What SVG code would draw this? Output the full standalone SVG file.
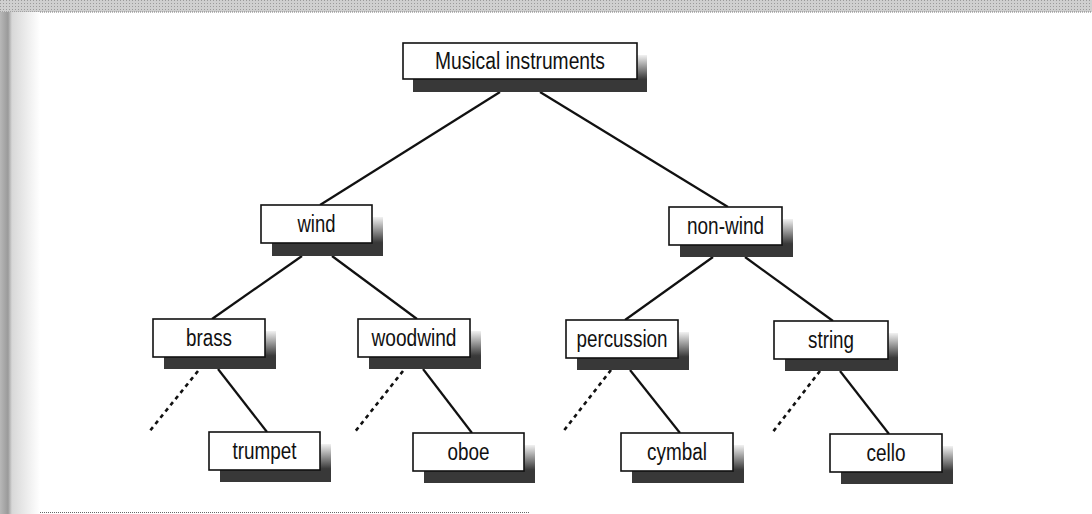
<svg xmlns="http://www.w3.org/2000/svg" width="1092" height="514" viewBox="0 0 1092 514">
<defs>
<linearGradient id="sg" x1="0" y1="0" x2="0" y2="1">
<stop offset="0" stop-color="#f2f2f2"/>
<stop offset="0.65" stop-color="#3a3a3a"/>
<stop offset="1" stop-color="#2e2e2e"/>
</linearGradient>
<linearGradient id="lg" x1="0" y1="0" x2="1" y2="0">
<stop offset="0" stop-color="#b8b8b8"/>
<stop offset="0.2" stop-color="#9a9a9a"/>
<stop offset="0.3" stop-color="#d8d8d8"/>
<stop offset="1" stop-color="#ffffff"/>
</linearGradient>
<pattern id="dots" width="3" height="3" patternUnits="userSpaceOnUse">
<rect width="3" height="3" fill="#cfcfcf"/>
<rect width="1" height="1" fill="#9a9a9a"/>
</pattern>
</defs>
<style>
.box{fill:#fff;stroke:#111;stroke-width:1.6}
.sr{fill:url(#sg)}
.sb{fill:#383838}
.lbl{font-family:"Liberation Sans",Arial,sans-serif;font-size:23px;fill:#111;text-anchor:middle}
.ln{stroke:#111;stroke-width:2.2;fill:none}
.dl{stroke:#111;stroke-width:2.6;stroke-dasharray:4 4;fill:none}
</style>
<rect width="1092" height="514" fill="#fff"/>
<rect x="0" y="0" width="1092" height="12" fill="url(#dots)"/>
<line x1="0" y1="12" x2="1092" y2="12" stroke="#777" stroke-width="1" stroke-dasharray="1 1"/>
<rect x="0" y="12" width="40" height="502" fill="url(#lg)"/>
<line x1="40" y1="512.5" x2="530" y2="512.5" stroke="#666" stroke-width="1" stroke-dasharray="1 1"/>

<g id="connectors">
<line class="ln" x1="500" y1="92" x2="320" y2="205"/>
<line class="ln" x1="540" y1="92" x2="728" y2="207"/>
<line class="ln" x1="302" y1="256" x2="212" y2="319"/>
<line class="ln" x1="332" y1="256" x2="417" y2="319"/>
<line class="ln" x1="713" y1="257" x2="625" y2="320"/>
<line class="ln" x1="745" y1="257" x2="833" y2="321"/>
<line class="ln" x1="218" y1="369" x2="267" y2="432"/>
<line class="ln" x1="423" y1="369" x2="472" y2="433"/>
<line class="ln" x1="630" y1="370" x2="680" y2="433"/>
<line class="ln" x1="840" y1="371" x2="889" y2="434"/>
<line class="dl" x1="198" y1="371" x2="149" y2="432"/>
<line class="dl" x1="403" y1="371" x2="354" y2="433"/>
<line class="dl" x1="611" y1="370" x2="562" y2="433"/>
<line class="dl" x1="820" y1="371" x2="772" y2="433"/>
</g>

<g id="n-musical">
<rect class="sr" x="637" y="55" width="10" height="37"/>
<rect class="sb" x="413" y="79" width="234" height="13"/>
<rect class="box" x="403" y="43" width="234" height="36"/>
<text class="lbl" x="520" y="69" textLength="170" lengthAdjust="spacingAndGlyphs">Musical instruments</text>
</g>
<g id="n-wind">
<rect class="sr" x="372" y="217" width="11" height="39"/>
<rect class="sb" x="272" y="243" width="111" height="13"/>
<rect class="box" x="261" y="205" width="111" height="38"/>
<text class="lbl" x="316.5" y="232" textLength="38" lengthAdjust="spacingAndGlyphs">wind</text>
</g>
<g id="n-nonwind">
<rect class="sr" x="782" y="219" width="11" height="38"/>
<rect class="sb" x="680" y="245" width="113" height="12"/>
<rect class="box" x="669" y="207" width="113" height="38"/>
<text class="lbl" x="725.5" y="234" textLength="77" lengthAdjust="spacingAndGlyphs">non-wind</text>
</g>
<g id="n-brass">
<rect class="sr" x="265" y="331" width="11" height="38"/>
<rect class="sb" x="164" y="357" width="112" height="12"/>
<rect class="box" x="153" y="319" width="112" height="38"/>
<text class="lbl" x="209" y="346" textLength="46" lengthAdjust="spacingAndGlyphs">brass</text>
</g>
<g id="n-woodwind">
<rect class="sr" x="470" y="331" width="11" height="38"/>
<rect class="sb" x="369" y="357" width="112" height="12"/>
<rect class="box" x="358" y="319" width="112" height="38"/>
<text class="lbl" x="414" y="346" textLength="85" lengthAdjust="spacingAndGlyphs">woodwind</text>
</g>
<g id="n-percussion">
<rect class="sr" x="678" y="332" width="11" height="38"/>
<rect class="sb" x="577" y="358" width="112" height="12"/>
<rect class="box" x="566" y="320" width="112" height="38"/>
<text class="lbl" x="622" y="347" textLength="91" lengthAdjust="spacingAndGlyphs">percussion</text>
</g>
<g id="n-string">
<rect class="sr" x="888" y="333" width="10" height="38"/>
<rect class="sb" x="785" y="359" width="113" height="12"/>
<rect class="box" x="774" y="321" width="114" height="38"/>
<text class="lbl" x="831" y="348" textLength="46" lengthAdjust="spacingAndGlyphs">string</text>
</g>
<g id="n-trumpet">
<rect class="sr" x="320" y="444" width="11" height="38"/>
<rect class="sb" x="220" y="470" width="111" height="12"/>
<rect class="box" x="209" y="432" width="111" height="38"/>
<text class="lbl" x="264.5" y="459" textLength="64" lengthAdjust="spacingAndGlyphs">trumpet</text>
</g>
<g id="n-oboe">
<rect class="sr" x="524" y="445" width="11" height="38"/>
<rect class="sb" x="424" y="471" width="111" height="12"/>
<rect class="box" x="413" y="433" width="111" height="38"/>
<text class="lbl" x="468.5" y="460" textLength="42" lengthAdjust="spacingAndGlyphs">oboe</text>
</g>
<g id="n-cymbal">
<rect class="sr" x="733" y="445" width="11" height="38"/>
<rect class="sb" x="632" y="471" width="112" height="12"/>
<rect class="box" x="621" y="433" width="112" height="38"/>
<text class="lbl" x="677" y="460" textLength="60" lengthAdjust="spacingAndGlyphs">cymbal</text>
</g>
<g id="n-cello">
<rect class="sr" x="942" y="446" width="11" height="38"/>
<rect class="sb" x="841" y="472" width="112" height="12"/>
<rect class="box" x="830" y="434" width="112" height="38"/>
<text class="lbl" x="886" y="461" textLength="39" lengthAdjust="spacingAndGlyphs">cello</text>
</g>
</svg>
